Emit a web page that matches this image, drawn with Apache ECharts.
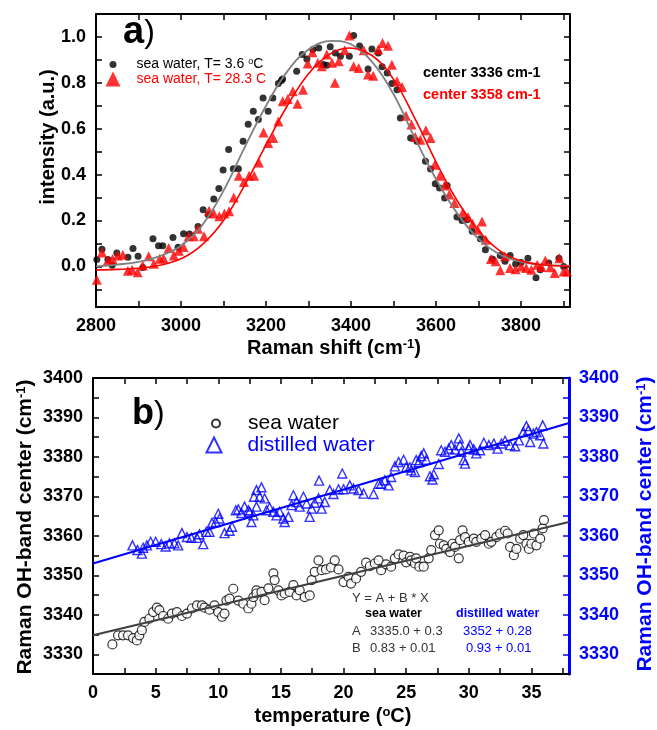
<!DOCTYPE html>
<html>
<head>
<meta charset="utf-8">
<script src="https://cdn.jsdelivr.net/npm/echarts@6/dist/echarts.min.js"></script>
<style>
  html, body { margin: 0; background: #fff; }
  #chart { width: 657px; height: 730px; }
</style>
</head>
<body>
<div id="chart"></div>
<script>
// panel a) Raman spectra, [shift, intensity]
const coldSpectrum = [[2802,0.03],[2814,0.075],[2828,0.03],[2838,0.005],[2849,0.058],[2875,0.04],[2887,0.078],[2899,0.044],[2910,-0.005],[2934,0.12],[2947,0.09],[2957,0.09],[2981,0.126],[2993,0.083],[3006,0.142],[3020,0.141],[3040,0.174],[3052,0.247],[3064,0.225],[3077,0.294],[3089,0.34],[3099,0.42],[3112,0.509],[3123,0.426],[3135,0.426],[3146,0.545],[3158,0.62],[3170,0.676],[3182,0.64],[3193,0.734],[3205,0.676],[3216,0.734],[3229,0.797],[3236,0.81],[3239,0.817],[3272,0.85],[3285,0.923],[3296,0.904],[3310,0.945],[3324,0.952],[3335,0.88],[3343,0.877],[3351,0.957],[3363,0.93],[3375,0.916],[3396,0.916],[3406,1.006],[3420,0.96],[3440,0.86],[3449,0.948],[3464,0.93],[3473,0.87],[3485,0.843],[3496,0.797],[3508,0.77],[3516,0.647],[3540,0.56],[3555,0.545],[3575,0.458],[3587,0.424],[3598,0.36],[3608,0.342],[3620,0.298],[3626,0.352],[3649,0.215],[3661,0.2],[3673,0.203],[3685,0.153],[3704,0.12],[3716,0.073],[3732,0.032],[3751,0.047],[3762,0.022],[3774,0.047],[3787,0.01],[3800,0.017],[3816,0.036],[3835,-0.05],[3845,-0.015],[3865,0.015],[3889,0.036],[3900,0.0]];
const warmSpectrum = [[2802,-0.058],[2814,0.061],[2828,0.026],[2839,0.032],[2851,0.047],[2863,0.051],[2875,-0.019],[2885,-0.015],[2898,-0.026],[2910,0.004],[2924,0.044],[2936,0.012],[2950,0.033],[2959,0.036],[2971,0.08],[2983,0.047],[2995,0.068],[3006,0.084],[3018,0.131],[3030,0.131],[3040,0.164],[3054,0.131],[3066,0.243],[3077,0.23],[3090,0.218],[3102,0.23],[3113,0.24],[3124,0.3],[3136,0.395],[3148,0.368],[3160,0.395],[3172,0.395],[3183,0.453],[3194,0.584],[3205,0.538],[3217,0.56],[3229,0.632],[3239,0.72],[3251,0.73],[3263,0.763],[3274,0.709],[3287,0.77],[3298,0.884],[3309,0.933],[3322,0.887],[3331,0.872],[3343,0.923],[3355,0.887],[3362,0.8],[3371,0.894],[3385,0.942],[3396,1.006],[3406,0.872],[3418,0.865],[3430,0.942],[3440,0.836],[3452,0.831],[3464,0.945],[3474,0.974],[3487,0.962],[3496,0.879],[3508,0.807],[3520,0.782],[3529,0.657],[3542,0.618],[3551,0.564],[3563,0.552],[3576,0.593],[3587,0.56],[3597,0.443],[3609,0.395],[3620,0.353],[3631,0.313],[3643,0.276],[3663,0.235],[3675,0.215],[3686,0.186],[3698,0.16],[3708,0.196],[3717,0.116],[3729,0.032],[3740,0.022],[3751,-0.017],[3762,0.044],[3774,-0.007],[3787,-0.012],[3800,0.0],[3812,-0.007],[3824,-0.015],[3838,0.007],[3848,-0.003],[3857,0.026],[3869,-0.004],[3879,-0.029],[3890,0.036],[3900,-0.022],[3908,-0.022]];
const coldFit = [[2800,0.0],[2850,0.008],[2900,0.02],[2950,0.045],[3000,0.09],[3050,0.18],[3100,0.33],[3150,0.52],[3200,0.7],[3250,0.85],[3300,0.945],[3355,0.983],[3400,0.968],[3450,0.89],[3500,0.75],[3550,0.56],[3600,0.38],[3650,0.23],[3700,0.12],[3750,0.052],[3800,0.02],[3850,0.008],[3915,0.003]];
const warmFit = [[2800,-0.015],[2850,-0.013],[2900,-0.008],[2950,0.005],[3000,0.033],[3050,0.095],[3100,0.2],[3150,0.355],[3200,0.53],[3250,0.7],[3300,0.84],[3350,0.925],[3395,0.952],[3450,0.918],[3500,0.815],[3550,0.645],[3600,0.455],[3650,0.285],[3700,0.155],[3750,0.068],[3800,0.024],[3850,0.007],[3915,0.0]];

// panel b) band centre vs temperature, [T, centre]
const seaWater = [[1.55,3332.5],[2.0,3334.8],[2.4,3334.8],[2.8,3334.8],[3.2,3334.1],[3.5,3333.5],[3.7,3334.8],[3.9,3336.1],[4.1,3338.2],[4.5,3339.0],[4.8,3340.7],[5.1,3341.8],[5.3,3341.2],[5.6,3339.7],[6.0,3339.0],[6.3,3340.3],[6.7,3340.7],[7.1,3339.7],[7.5,3340.3],[7.9,3341.6],[8.3,3342.4],[8.7,3342.4],[8.9,3341.8],[9.3,3341.3],[9.7,3342.4],[10.0,3340.7],[10.3,3339.5],[10.5,3340.3],[10.65,3343.6],[10.9,3344.1],[11.2,3346.6],[11.6,3343.6],[12.0,3342.8],[12.4,3341.6],[12.65,3342.8],[12.8,3344.5],[13.05,3346.2],[13.05,3345.4],[13.45,3345.8],[13.7,3343.7],[14.0,3346.7],[14.4,3350.5],[14.5,3348.8],[14.8,3346.2],[15.05,3344.9],[15.3,3345.4],[15.7,3345.8],[16.0,3347.5],[16.25,3344.9],[16.5,3346.2],[16.9,3344.5],[17.3,3344.9],[17.45,3348.8],[17.7,3350.9],[18.0,3353.8],[18.25,3351.3],[18.6,3351.5],[19.0,3352.0],[19.3,3353.8],[19.6,3351.5],[20.0,3348.3],[20.4,3349.6],[20.6,3347.9],[21.0,3349.2],[21.4,3350.9],[21.8,3353.2],[22.1,3352.3],[22.5,3353.0],[22.8,3353.8],[23.0,3351.3],[23.4,3352.8],[23.8,3352.2],[24.1,3354.3],[24.4,3355.3],[24.8,3355.0],[25.0,3353.3],[25.3,3354.7],[25.4,3353.8],[25.7,3353.0],[25.8,3354.3],[26.05,3352.2],[26.4,3352.2],[26.8,3354.3],[27.0,3356.4],[27.3,3360.2],[27.6,3361.4],[27.7,3358.0],[28.0,3357.6],[28.2,3356.7],[28.5,3355.9],[28.7,3358.0],[28.9,3357.2],[29.2,3354.3],[29.3,3358.9],[29.5,3361.4],[29.7,3359.7],[30.0,3358.5],[30.4,3359.3],[30.6,3358.5],[31.0,3359.3],[31.3,3360.2],[31.6,3358.0],[31.8,3358.5],[32.2,3359.7],[32.5,3360.6],[32.9,3361.3],[33.1,3360.6],[33.3,3357.2],[33.6,3355.1],[33.8,3356.7],[34.1,3359.3],[34.35,3360.2],[34.6,3358.0],[34.8,3356.7],[35.0,3358.0],[35.2,3360.6],[35.4,3357.6],[35.7,3359.3],[35.9,3361.9],[36.0,3364.0]];
const distilledWater = [[3.15,3357.6],[3.55,3356.4],[3.9,3355.5],[4.0,3357.0],[4.3,3357.6],[4.6,3358.5],[5.0,3358.5],[5.45,3357.9],[5.8,3357.3],[6.1,3358.1],[6.5,3358.1],[6.8,3357.6],[7.1,3360.7],[7.5,3359.7],[7.85,3359.5],[8.3,3359.5],[8.5,3360.4],[8.8,3357.9],[9.05,3361.0],[9.3,3361.0],[9.5,3363.3],[9.8,3363.5],[10.0,3365.6],[10.1,3364.4],[10.5,3360.7],[10.9,3361.3],[11.1,3362.3],[11.4,3366.5],[11.6,3366.7],[11.85,3365.8],[12.1,3367.4],[12.4,3366.5],[12.5,3366.1],[12.65,3363.5],[12.8,3365.2],[12.85,3369.9],[13.05,3367.4],[13.05,3371.6],[13.3,3369.9],[13.45,3372.3],[13.7,3369.5],[13.85,3366.5],[14.1,3367.2],[14.4,3366.1],[14.65,3365.2],[14.9,3366.1],[15.2,3364.4],[15.3,3363.5],[15.6,3364.8],[15.85,3367.8],[16.0,3370.3],[16.25,3368.6],[16.5,3367.4],[16.8,3369.9],[17.05,3368.2],[17.3,3364.8],[17.45,3366.9],[17.7,3368.4],[18.0,3369.5],[18.05,3374.0],[18.25,3366.9],[18.5,3368.6],[18.9,3371.6],[19.2,3370.6],[19.6,3371.8],[19.9,3375.8],[20.0,3371.8],[20.5,3372.8],[20.8,3372.0],[21.2,3371.6],[21.6,3370.7],[22.4,3370.6],[22.8,3373.2],[23.0,3373.2],[23.3,3374.1],[23.6,3372.8],[23.8,3374.9],[24.1,3377.6],[24.4,3378.7],[24.8,3379.3],[25.0,3377.4],[25.3,3377.4],[25.4,3376.6],[25.7,3376.2],[25.8,3379.2],[26.0,3378.7],[26.2,3380.2],[26.4,3380.9],[26.6,3379.3],[26.9,3375.1],[27.1,3374.3],[27.2,3375.6],[27.6,3378.2],[27.8,3381.7],[28.1,3381.3],[28.4,3382.1],[28.6,3383.0],[28.9,3381.9],[29.2,3384.7],[29.3,3383.0],[29.4,3381.3],[29.6,3379.2],[29.7,3378.3],[30.0,3382.1],[30.1,3383.0],[30.4,3381.9],[30.6,3380.9],[30.9,3381.7],[31.2,3383.6],[31.6,3383.0],[32.0,3383.4],[32.3,3382.1],[32.6,3383.4],[32.9,3384.1],[33.3,3383.0],[33.7,3382.7],[34.0,3384.2],[34.35,3386.3],[34.6,3387.8],[34.75,3386.8],[34.9,3383.8],[35.15,3385.9],[35.4,3386.3],[35.7,3385.5],[35.9,3388.0],[35.95,3383.4]];
const seaFit = [[0,3334.8],[38,3363.5]];
const distilledFit = [[0,3353.0],[38,3388.6]];

// ticks and labels
const shiftTicks = [2800,2900,3000,3100,3200,3300,3400,3500,3600,3700,3800,3900];
const shiftLabels = [2800,3000,3200,3400,3600,3800];
const intensityTicks = [-0.1,0,0.1,0.2,0.3,0.4,0.5,0.6,0.7,0.8,0.9,1.0];
const intensityLabels = [0,0.2,0.4,0.6,0.8,1.0];
const tempTicks = [0,2.5,5,7.5,10,12.5,15,17.5,20,22.5,25,27.5,30,32.5,35,37.5];
const tempLabels = [0,5,10,15,20,25,30,35];
const centerTicks = [3330,3335,3340,3345,3350,3355,3360,3365,3370,3375,3380,3385,3390,3395,3400];
const centerLabels = [3330,3340,3350,3360,3370,3380,3390,3400];

const FONT = 'Liberation Sans, Arial, sans-serif';
const BLUE = '#0000ff';
const RED = '#ff0000';

const plain = function (v) { return String(v); };

function axis(gridIndex, position, min, max, ticks, labels, color, width, formatter) {
  return {
    type: 'value',
    gridIndex: gridIndex,
    position: position,
    min: min,
    max: max,
    axisLine: { show: true, onZero: false, lineStyle: { color: color, width: width } },
    axisTick: { show: true, inside: true, length: 6, customValues: ticks, lineStyle: { color: color, width: 1.5 } },
    axisLabel: labels ? {
      show: true,
      customValues: labels,
      margin: 10,
      color: color,
      fontSize: 18,
      fontWeight: 'bold',
      fontFamily: FONT,
      formatter: formatter || plain
    } : { show: false },
    splitLine: { show: false }
  };
}

function txt(x, y, text, font, color) {
  return {
    type: 'text',
    x: x,
    y: y,
    silent: true,
    style: {
      text: text,
      font: font,
      fill: color,
      align: 'left',
      verticalAlign: 'middle'
    }
  };
}

const supRich = {
  sup: { fontSize: 13, fontWeight: 'bold', fontFamily: FONT, verticalAlign: 'top' }
};

const chart = echarts.init(document.getElementById('chart'));

chart.setOption({
  animation: false,
  backgroundColor: '#fff',
  grid: [
    { left: 96, top: 14, width: 474, height: 293 },
    { left: 93, top: 378, width: 476, height: 296 }
  ],
  xAxis: [
    axis(0, 'bottom', 2800, 3915, shiftTicks, shiftLabels, '#000', 2),
    axis(0, 'top', 2800, 3915, shiftTicks, null, '#000', 2),
    axis(1, 'bottom', 0, 38, tempTicks, tempLabels, '#000', 2),
    axis(1, 'top', 0, 38, tempTicks, null, '#000', 2)
  ],
  yAxis: [
    axis(0, 'left', -0.177, 1.1, intensityTicks, intensityLabels, '#000', 2, function (v) { return v.toFixed(1); }),
    axis(0, 'right', -0.177, 1.1, intensityTicks, null, '#000', 2),
    axis(1, 'left', 3325, 3400, centerTicks, centerLabels, '#000', 2),
    axis(1, 'right', 3325, 3400, centerTicks, centerLabels, BLUE, 3)
  ],
  legend: [
    {
      data: ['sea water, T= 3.6 °C'], left: 109.5, top: 57.5, padding: 0,
      itemWidth: 7, itemHeight: 7, selectedMode: false,
      formatter: function () { return 'sea water, T= 3.6 {sup|o}C'; },
      textStyle: { color: '#000', fontSize: 14, fontFamily: FONT, padding: [0, 0, 0, 15],
        rich: { sup: { fontSize: 9, fontFamily: FONT, color: '#000', verticalAlign: 'top' } } }
    },
    {
      data: ['sea water, T= 28.3 C'], left: 105.5, top: 71.5, padding: 0,
      itemWidth: 15, itemHeight: 15, selectedMode: false,
      textStyle: { color: RED, fontSize: 14, fontFamily: FONT, padding: [0, 0, 0, 11] }
    },
    {
      data: ['sea water'], left: 211, top: 413, padding: 0,
      itemWidth: 8, itemHeight: 8, selectedMode: false,
      textStyle: { color: '#000', fontSize: 21, fontFamily: FONT, padding: [0, 0, 0, 23] }
    },
    {
      data: ['distilled water'], left: 205.5, top: 434.5, padding: 0,
      itemWidth: 15, itemHeight: 15, selectedMode: false,
      itemStyle: { borderWidth: 2 },
      textStyle: { color: BLUE, fontSize: 21, fontFamily: FONT, padding: [0, 0, 0, 21] }
    }
  ],
  series: [
    {
      name: 'sea water, T= 3.6 °C', type: 'scatter', xAxisIndex: 0, yAxisIndex: 0,
      data: coldSpectrum, symbol: 'circle', symbolSize: 7,
      itemStyle: { color: '#000' }
    },
    {
      name: 'sea water, T= 28.3 C', type: 'scatter', xAxisIndex: 0, yAxisIndex: 0,
      data: warmSpectrum, symbol: 'triangle', symbolSize: 10,
      itemStyle: { color: RED }
    },
    {
      type: 'line', xAxisIndex: 0, yAxisIndex: 0, data: coldFit, smooth: 0.4,
      showSymbol: false, silent: true, lineStyle: { color: '#808080', width: 1.8 }
    },
    {
      type: 'line', xAxisIndex: 0, yAxisIndex: 0, data: warmFit, smooth: 0.4,
      showSymbol: false, silent: true, lineStyle: { color: RED, width: 1.6 }
    },
    {
      name: 'sea water', type: 'scatter', xAxisIndex: 2, yAxisIndex: 2,
      data: seaWater, symbol: 'circle', symbolSize: 9,
      itemStyle: { color: '#fff', borderColor: '#000', borderWidth: 1.2 }
    },
    {
      name: 'distilled water', type: 'scatter', xAxisIndex: 2, yAxisIndex: 3,
      data: distilledWater, symbol: 'triangle', symbolSize: 9,
      itemStyle: { color: 'rgba(255,255,255,0)', borderColor: BLUE, borderWidth: 1.4 }
    },
    {
      type: 'line', xAxisIndex: 2, yAxisIndex: 2, data: seaFit,
      showSymbol: false, silent: true, lineStyle: { color: '#404040', width: 2 }
    },
    {
      type: 'line', xAxisIndex: 2, yAxisIndex: 3, data: distilledFit,
      showSymbol: false, silent: true, lineStyle: { color: BLUE, width: 2 }
    }
  ],
  graphic: [
    // panel labels
    {
      type: 'text', x: 123, y: 33, silent: true,
      style: {
        text: '{a|a}{p|)}', fill: '#000', verticalAlign: 'middle',
        rich: {
          a: { fontSize: 38, fontWeight: 'bold', fontFamily: FONT },
          p: { fontSize: 32, fontFamily: FONT }
        }
      }
    },
    {
      type: 'text', x: 132, y: 414, silent: true,
      style: {
        text: '{a|b}{p|)}', fill: '#000', verticalAlign: 'middle',
        rich: {
          a: { fontSize: 36, fontWeight: 'bold', fontFamily: FONT },
          p: { fontSize: 32, fontFamily: FONT }
        }
      }
    },
    txt(423, 73, 'center 3336 cm-1', 'bold 14.5px ' + FONT, '#000'),
    txt(423, 95, 'center 3358 cm-1', 'bold 14.5px ' + FONT, RED),
    // fit table
    txt(352, 598, 'Y = A + B * X', '13px ' + FONT, '#333'),
    txt(365, 614, 'sea water', 'bold 12.5px ' + FONT, '#000'),
    txt(456, 614, 'distilled water', 'bold 12.5px ' + FONT, BLUE),
    txt(352, 631, 'A', '13px ' + FONT, '#333'),
    txt(370, 631, '3335.0 + 0.3', '13px ' + FONT, '#333'),
    txt(463, 631, '3352 + 0.28', '13px ' + FONT, BLUE),
    txt(352, 648, 'B', '13px ' + FONT, '#333'),
    txt(370, 648, '0.83 + 0.01', '13px ' + FONT, '#333'),
    txt(466, 648, '0.93 + 0.01', '13px ' + FONT, BLUE),
    // axis titles
    {
      type: 'text', x: 48, y: 137, rotation: Math.PI / 2, silent: true,
      style: { text: 'intensity (a.u.)', font: 'bold 20px ' + FONT, fill: '#000', align: 'center', verticalAlign: 'middle' }
    },
    {
      type: 'text', x: 334, y: 348, silent: true,
      style: { text: 'Raman shift (cm{sup|-1})', font: 'bold 20px ' + FONT, fill: '#000', align: 'center', verticalAlign: 'middle', rich: supRich }
    },
    {
      type: 'text', x: 333, y: 716, silent: true,
      style: { text: 'temperature ({sup|o}C)', font: 'bold 20px ' + FONT, fill: '#000', align: 'center', verticalAlign: 'middle', rich: supRich }
    },
    {
      type: 'text', x: 25, y: 527, rotation: Math.PI / 2, silent: true,
      style: { text: 'Raman OH-band center (cm{sup|-1})', font: 'bold 21px ' + FONT, fill: '#000', align: 'center', verticalAlign: 'middle', rich: supRich }
    },
    {
      type: 'text', x: 645, y: 524, rotation: Math.PI / 2, silent: true,
      style: { text: 'Raman OH-band center (cm{sup|-1})', font: 'bold 21px ' + FONT, fill: BLUE, align: 'center', verticalAlign: 'middle', rich: supRich }
    }
  ]
});

window.addEventListener('resize', () => {
  chart.resize();
});
</script>
</body>
</html>
